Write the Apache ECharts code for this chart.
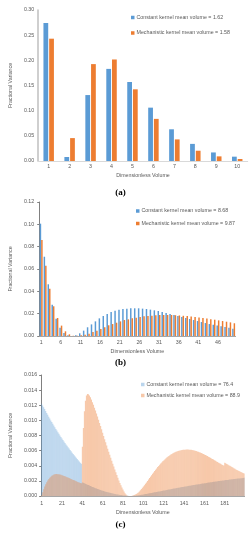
<!DOCTYPE html>
<html><head><meta charset="utf-8">
<script src="https://cdn.jsdelivr.net/npm/echarts@6/dist/echarts.min.js"></script>
<style>html,body{margin:0;padding:0;background:#fff}#c{width:250px;height:550px}</style>
</head><body><div id="c"></div>
<script>
// ---------- Panel (a) ----------
const catsA = ['1','2','3','4','5','6','7','8','9','10'];
const constA = [0.274,0.008,0.131,0.183,0.157,0.106,0.063,0.034,0.017,0.0086];
const mechA  = [0.243,0.0455,0.1925,0.2017,0.1424,0.0837,0.0429,0.0204,0.0092,0.004];
const nameConstA = 'Constant kernel mean volume = 1.62';
const nameMechA  = 'Mechanistic kernel mean volume = 1.58';
const yTicksA = ['0.00','0.05','0.10','0.15','0.20','0.25','0.30'];

// ---------- Panel (b) ----------
const catsB = Array.from({length:50},(_,i)=>String(i+1));
const constB = [0.1006,0.0710,0.0463,0.0280,0.0155,0.0075,0.0027,0.0006,0.0001,0.0006,
  0.0024,0.0048,0.0078,0.0104,0.0131,0.0158,0.0179,0.0197,0.0215,0.0227,
  0.0236,0.0242,0.0245,0.0248,0.0248,0.0248,0.0245,0.0242,0.0236,0.0230,
  0.0224,0.0215,0.0206,0.0197,0.0188,0.0179,0.0170,0.0161,0.0152,0.0143,
  0.0134,0.0125,0.0116,0.0107,0.0101,0.0093,0.0087,0.0081,0.0075,0.0066];
const mechB = [0.0860,0.0630,0.0424,0.0266,0.0161,0.0093,0.0042,0.0015,0.0002,0.0002,
  0.0006,0.0012,0.0021,0.0036,0.0048,0.0063,0.0078,0.0096,0.0107,0.0119,
  0.0131,0.0143,0.0149,0.0158,0.0164,0.0170,0.0176,0.0179,0.0182,0.0185,
  0.0188,0.0188,0.0188,0.0188,0.0186,0.0184,0.0181,0.0178,0.0174,0.0170,
  0.0166,0.0161,0.0156,0.0151,0.0146,0.0140,0.0134,0.0128,0.0122,0.0114];
const nameConstB = 'Constant kernel mean volume = 8.68';
const nameMechB  = 'Mechanistic kernel mean volume = 9.87';
const yTicksB = ['0.00','0.02','0.04','0.06','0.08','0.10','0.12'];

// ---------- Panel (c) ----------
const catsC = Array.from({length:200},(_,i)=>String(i+1));
const constC = [
0.01220,0.01198,0.01174,0.01149,0.01124,0.01099,0.01074,0.01049,0.01024,0.01000,
0.00977,0.00954,0.00931,0.00909,0.00887,0.00865,0.00843,0.00822,0.00801,0.00780,
0.00760,0.00740,0.00720,0.00701,0.00682,0.00663,0.00645,0.00627,0.00609,0.00591,
0.00573,0.00556,0.00539,0.00522,0.00505,0.00489,0.00473,0.00457,0.00441,0.00425,
0.00180,0.00174,0.00168,0.00162,0.00156,0.00150,0.00144,0.00138,0.00132,0.00126,
0.00120,0.00115,0.00109,0.00104,0.00098,0.00093,0.00088,0.00083,0.00078,0.00074,
0.00069,0.00065,0.00061,0.00057,0.00053,0.00049,0.00046,0.00042,0.00039,0.00036,
0.00033,0.00030,0.00027,0.00024,0.00021,0.00019,0.00017,0.00014,0.00012,0.00010,
0.00008,0.00007,0.00005,0.00004,0.00003,0.00002,0.00001,0.00000,0.00000,0.00001,
0.00002,0.00003,0.00004,0.00005,0.00007,0.00009,0.00011,0.00013,0.00015,0.00018,
0.00020,0.00023,0.00025,0.00028,0.00030,0.00033,0.00035,0.00038,0.00040,0.00043,
0.00046,0.00048,0.00051,0.00053,0.00056,0.00059,0.00061,0.00064,0.00066,0.00069,
0.00072,0.00074,0.00077,0.00079,0.00082,0.00085,0.00087,0.00090,0.00092,0.00095,
0.00098,0.00100,0.00103,0.00105,0.00108,0.00110,0.00113,0.00115,0.00118,0.00120,
0.00122,0.00125,0.00127,0.00130,0.00132,0.00134,0.00137,0.00139,0.00142,0.00144,
0.00146,0.00148,0.00151,0.00153,0.00155,0.00157,0.00159,0.00162,0.00164,0.00166,
0.00168,0.00170,0.00172,0.00175,0.00177,0.00179,0.00181,0.00183,0.00185,0.00187,
0.00189,0.00191,0.00193,0.00195,0.00197,0.00199,0.00201,0.00203,0.00205,0.00206,
0.00208,0.00210,0.00212,0.00213,0.00215,0.00217,0.00219,0.00220,0.00222,0.00224,
0.00225,0.00227,0.00228,0.00230,0.00232,0.00233,0.00235,0.00236,0.00238,0.00240];
const mechC = [
0.00010,0.00050,0.00090,0.00125,0.00155,0.00182,0.00205,0.00225,0.00242,0.00256,
0.00267,0.00276,0.00283,0.00287,0.00290,0.00290,0.00289,0.00287,0.00284,0.00280,
0.00276,0.00271,0.00266,0.00261,0.00255,0.00249,0.00243,0.00237,0.00231,0.00225,
0.00219,0.00213,0.00207,0.00201,0.00195,0.00189,0.00183,0.00177,0.00172,0.00167,
0.00650,0.00900,0.01120,0.01260,0.01330,0.01350,0.01345,0.01330,0.01305,0.01275,
0.01240,0.01205,0.01168,0.01130,0.01090,0.01050,0.01008,0.00966,0.00924,0.00881,
0.00838,0.00795,0.00752,0.00710,0.00668,0.00626,0.00585,0.00545,0.00505,0.00466,
0.00428,0.00390,0.00352,0.00314,0.00277,0.00240,0.00205,0.00172,0.00141,0.00112,
0.00085,0.00060,0.00038,0.00020,0.00007,0.00001,0.00000,0.00000,0.00000,0.00002,
0.00006,0.00012,0.00019,0.00027,0.00036,0.00046,0.00060,0.00075,0.00091,0.00108,
0.00125,0.00143,0.00161,0.00180,0.00199,0.00218,0.00237,0.00256,0.00275,0.00294,
0.00312,0.00330,0.00348,0.00365,0.00382,0.00398,0.00414,0.00429,0.00444,0.00458,
0.00471,0.00484,0.00496,0.00508,0.00519,0.00529,0.00539,0.00548,0.00556,0.00564,
0.00571,0.00578,0.00584,0.00589,0.00594,0.00598,0.00602,0.00605,0.00608,0.00610,
0.00612,0.00613,0.00614,0.00614,0.00614,0.00613,0.00612,0.00610,0.00608,0.00605,
0.00602,0.00598,0.00594,0.00590,0.00585,0.00580,0.00574,0.00568,0.00562,0.00556,
0.00549,0.00542,0.00535,0.00528,0.00520,0.00513,0.00505,0.00497,0.00489,0.00481,
0.00473,0.00465,0.00457,0.00449,0.00441,0.00433,0.00425,0.00417,0.00410,0.00402,
0.00440,0.00432,0.00424,0.00416,0.00408,0.00400,0.00392,0.00384,0.00376,0.00368,
0.00360,0.00352,0.00345,0.00338,0.00331,0.00324,0.00317,0.00310,0.00303,0.00296];
const nameConstC = 'Constant kernel mean volume = 76.4';
const nameMechC  = 'Mechanistic kernel mean volume = 88.9';
const yTicksC = ['0.000','0.002','0.004','0.006','0.008','0.010','0.012','0.014','0.016'];

const BLUE = '#5B9BD5', ORANGE = '#ED7D31', TXT = '#595959';
const FONT = '"Liberation Sans", Arial, sans-serif';
const FS = 5.3;

function xAx(grid, cats, interval, lineColor, margin) {
  return {
    type:'category', gridIndex:grid, data:cats,
    name:'Dimensionless Volume', nameLocation:'middle', nameGap: margin + 9,
    nameTextStyle:{fontSize:FS, color:TXT, fontFamily:FONT},
    axisLine:{lineStyle:{color:lineColor, width:1}},
    axisTick:{show:false},
    axisLabel:{interval:interval, fontSize:FS, color:TXT, fontFamily:FONT, margin:margin}
  };
}
function yAx(grid, max, step, ticks, lineColor, lineW, margin, nameGap, tick) {
  return {
    type:'value', gridIndex:grid, min:0, max:max, interval:step,
    name:'Fractional Variance', nameLocation:'middle', nameGap:nameGap,
    nameTextStyle:{fontSize:FS, color:TXT, fontFamily:FONT},
    splitLine:{show:false},
    axisLine:{show:true, lineStyle:{color:lineColor, width:lineW}},
    axisTick:{show:tick, length:2, lineStyle:{color:lineColor}},
    axisLabel:{fontSize:FS, color:TXT, fontFamily:FONT, margin:margin,
      formatter:(v)=>ticks[Math.round(v/step)]}
  };
}
function legend(names, left, top, gap) {
  return {
    orient:'vertical', left:left, top:top, padding:0, itemGap:gap,
    icon:'rect', itemWidth:3.5, itemHeight:3.5,
    textStyle:{fontSize:FS, color:TXT, fontFamily:FONT, padding:[0,0,0,-3]},
    data:names, selectedMode:false
  };
}

const chart = echarts.init(document.getElementById('c'), null, {renderer:'canvas'});
chart.setOption({
  animation:false,
  backgroundColor:'#fff',
  grid:[
    {left:33.6, width:214.1, top:10, height:151},
    {left:32.3, width:203.3, top:202, height:134},
    {left:26.8, width:217.8, top:375, height:121}
  ],
  xAxis:[
    xAx(0, catsA, 0, '#D9D9D9', 3),
    xAx(1, catsB, 4, '#A6A6A6', 4),
    xAx(2, catsC, 19, '#A6A6A6', 5)
  ],
  yAxis:[
    yAx(0, 0.30, 0.05, yTicksA, '#BFBFBF', 1.5, 4, 22, false),
    yAx(1, 0.12, 0.02, yTicksB, '#808080', 1, 5, 20, true),
    yAx(2, 0.016, 0.002, yTicksC, '#808080', 1, 4, 21, true)
  ],
  legend:[
    legend([nameConstA, nameMechA], 131, 15, 10.5),
    legend([nameConstB, nameMechB], 136, 208.5, 7.5),
    legend([nameConstC, nameMechC], 141, 382, 6)
  ],
  series:[
    {type:'bar', name:nameConstA, xAxisIndex:0, yAxisIndex:0, data:constA, itemStyle:{color:BLUE}, barGap:'20%', barCategoryGap:'50%'},
    {type:'bar', name:nameMechA,  xAxisIndex:0, yAxisIndex:0, data:mechA,  itemStyle:{color:ORANGE}},
    {type:'bar', name:nameConstB, xAxisIndex:1, yAxisIndex:1, data:constB, itemStyle:{color:BLUE}, barGap:'0%', barCategoryGap:'25%'},
    {type:'bar', name:nameMechB,  xAxisIndex:1, yAxisIndex:1, data:mechB,  itemStyle:{color:ORANGE}},
    {type:'bar', name:nameConstC, xAxisIndex:2, yAxisIndex:2, data:constC, itemStyle:{color:BLUE, opacity:0.42}, barGap:'-100%', barCategoryGap:'0%'},
    {type:'bar', name:nameMechC,  xAxisIndex:2, yAxisIndex:2, data:mechC,  itemStyle:{color:ORANGE, opacity:0.42}}
  ],
  graphic:[
    {type:'text', style:{text:'(a)', x:120.5, y:193, align:'center', verticalAlign:'middle', font:'bold 9px "Liberation Serif", serif', fill:'#000'}},
    {type:'text', style:{text:'(b)', x:120.5, y:363, align:'center', verticalAlign:'middle', font:'bold 9px "Liberation Serif", serif', fill:'#000'}},
    {type:'text', style:{text:'(c)', x:120.5, y:525, align:'center', verticalAlign:'middle', font:'bold 9px "Liberation Serif", serif', fill:'#000'}}
  ]
});
</script></body></html>
